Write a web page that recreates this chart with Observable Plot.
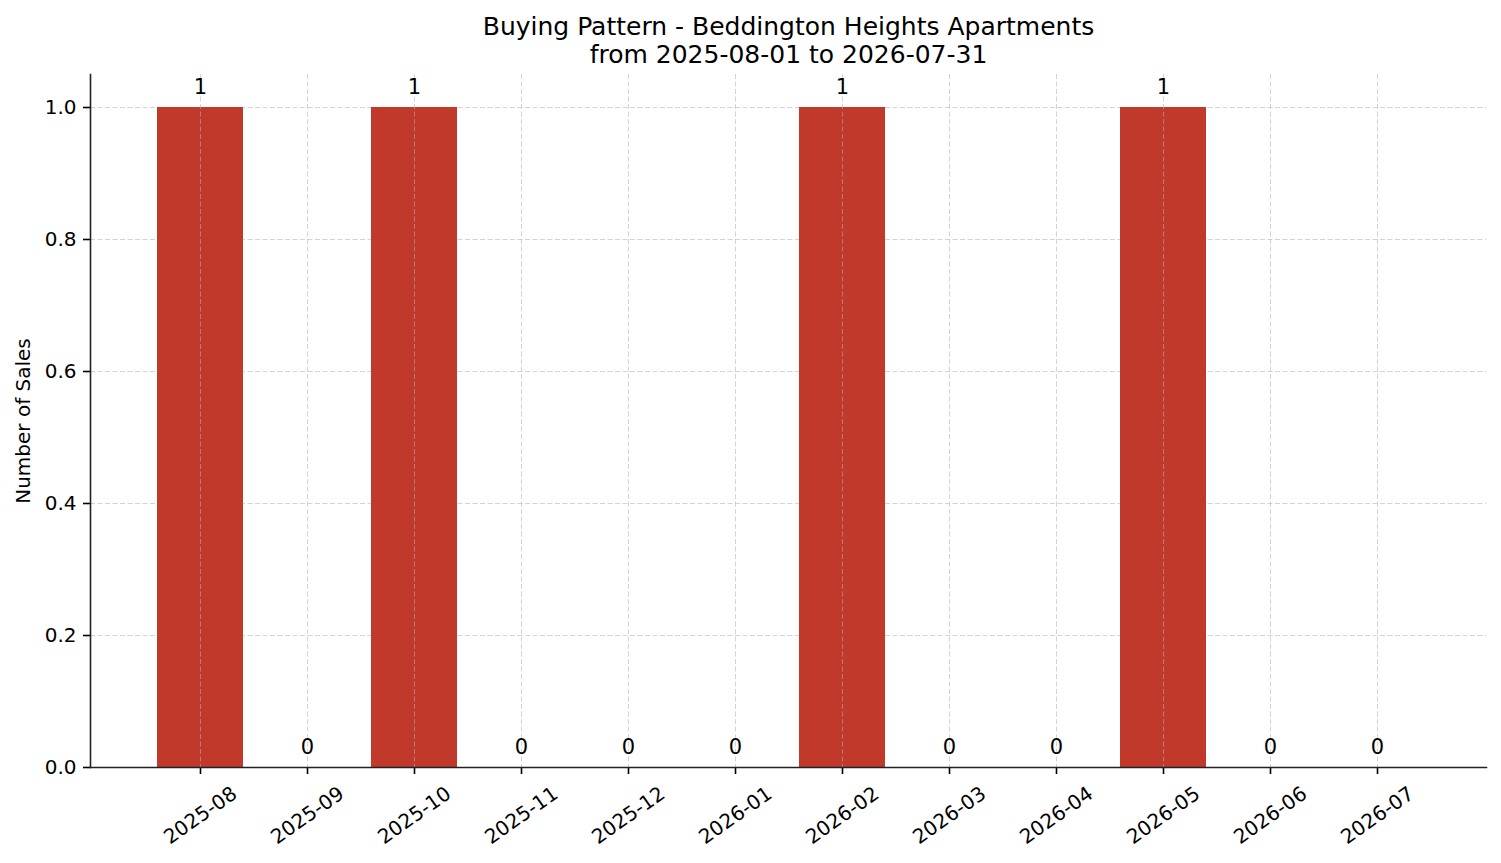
<!DOCTYPE html>
<html>
<head>
<meta charset="utf-8">
<script src="https://cdn.jsdelivr.net/npm/d3@7"></script>
<script src="https://cdn.jsdelivr.net/npm/@observablehq/plot@0.6"></script>
<style>
  body { margin: 0; background: #fff; font-family: "DejaVu Sans", sans-serif; }
  #title { width: 1501px; height: 70px; box-sizing: border-box; padding-top: 13px; text-align: center;
           font-size: 25px; line-height: 28px; color: #000; padding-left: 76px; }
  svg { display: block; }
</style>
</head>
<body>
<div id="title">Buying Pattern - Beddington Heights Apartments<br>from 2025-08-01 to 2026-07-31</div>
<div id="chart"></div>
<script>
const months = ["2025-08","2025-09","2025-10","2025-11","2025-12","2026-01","2026-02","2026-03","2026-04","2026-05","2026-06","2026-07"];
const sales = [1,0,1,0,0,0,1,0,0,1,0,0];
const yTicks = [0, 0.2, 0.4, 0.6, 0.8, 1.0];

const data = months.map((m, i) => ({month: m, sales: sales[i]}));
const gridStyle = {stroke: "#b0b0b0", strokeOpacity: 0.55, strokeWidth: 1, strokeDasharray: "5,2.5"};

const plot = Plot.plot({
  width: 1501,
  height: 793,
  marginLeft: 90,
  marginRight: 15,
  marginTop: 4,
  marginBottom: 96,
  style: {fontFamily: "DejaVu Sans", fontSize: "20px", color: "#000", background: "#fff"},
  x: {domain: months, paddingInner: 0.2, paddingOuter: 0.6, align: 0.5},
  y: {domain: [0, 1.05]},
  marks: [
    Plot.gridY(yTicks, {...gridStyle}),
    Plot.barY(data, {x: "month", y: "sales", fill: "#c0392b"}),
    Plot.gridX(months, {...gridStyle}),
    Plot.text(data, {x: "month", y: "sales", text: d => String(d.sales), dy: -14, lineAnchor: "bottom", fontSize: 21, fill: "#000"}),
    Plot.axisY(yTicks, {tickFormat: d3.format(".1f"), tickSize: 7, tickPadding: 7, label: null, strokeWidth: 1.6, fontSize: 20}),
    Plot.axisX({ticks: months, tickSize: 7, tickFormat: () => "", label: null, strokeWidth: 1.6}),
    Plot.text(months, {x: d => d, frameAnchor: "bottom", dy: 48, rotate: -35, textAnchor: "middle", lineAnchor: "middle", text: d => d, fontSize: 20, fill: "#000"}),
    Plot.frame({anchor: "left", stroke: "#222", strokeWidth: 1.6}),
    Plot.frame({anchor: "bottom", stroke: "#222", strokeWidth: 1.6}),
    Plot.text(["Number of Sales"], {frameAnchor: "left", dx: -67, rotate: -90, textAnchor: "middle", lineAnchor: "middle", fontSize: 20, fill: "#000"})
  ]
});
document.getElementById("chart").appendChild(plot);
</script>
</body>
</html>
